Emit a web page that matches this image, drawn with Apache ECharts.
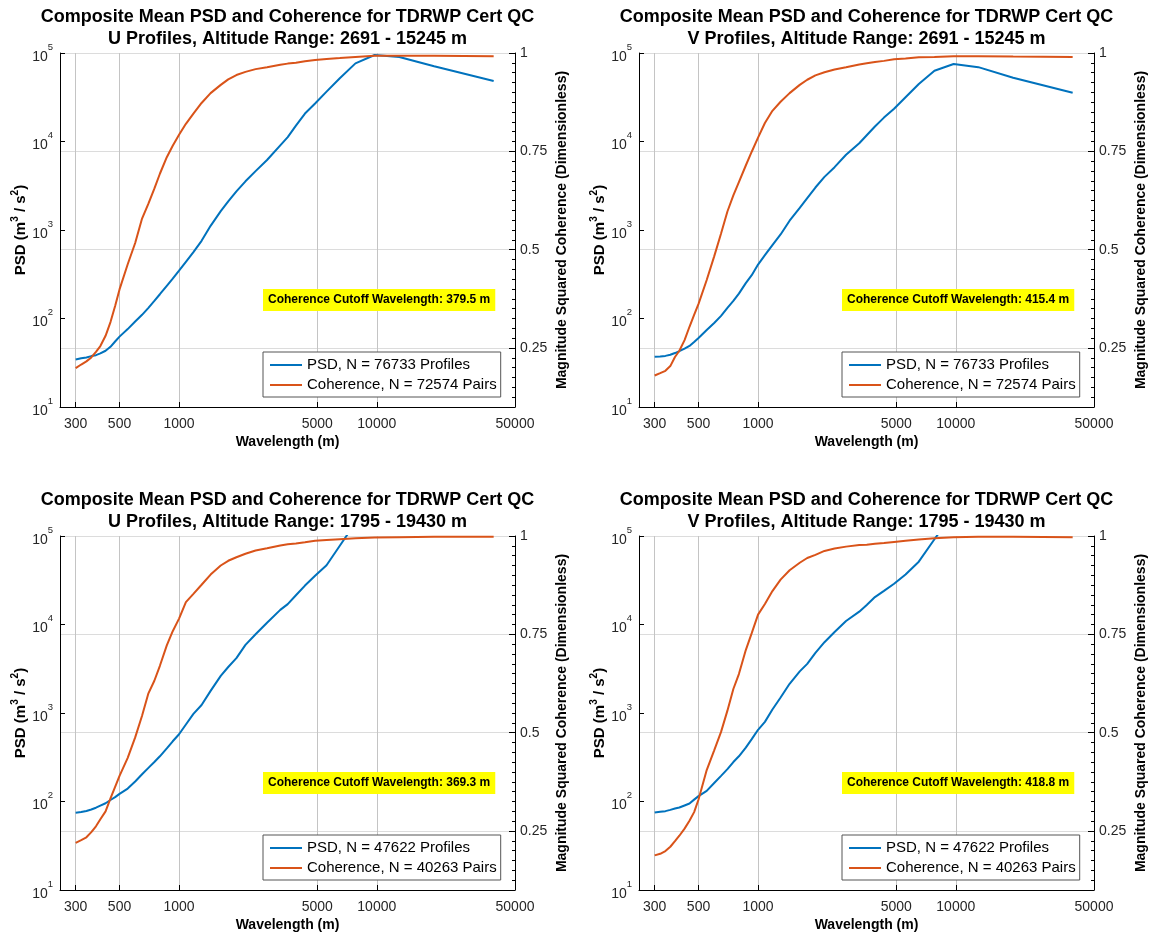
<!DOCTYPE html>
<html><head><meta charset="utf-8">
<script src="https://cdn.jsdelivr.net/npm/echarts@6/dist/echarts.min.js"></script>
<style>html,body{margin:0;padding:0;background:#fff}#c{width:1151px;height:936px}</style>
</head><body><div id="c"></div>
<script>
// ---------- data ----------
const wavelengths = [300,320,340,360,380,400,425,450,475,500,550,600,650,700,750,800,867,929,1000,1083,1182,1300,1444,1625,1773,1950,2167,2438,2786,3250,3545,3900,4333,4875,5571,6500,7800,9750,13000,19500,39000];

const psdUTop = [34.4,35.5,36.3,37.6,38.5,40.3,43.2,47.9,55.0,62.4,75.9,92.3,110,132,158,188,234,282,347,437,562,755,1114,1633,2109,2735,3548,4624,6180,9036,11220,15140,20700,26920,36640,51760,76380,94840,90160,70790,48310];
const cohUTop = [0.199,0.208,0.216,0.226,0.240,0.255,0.281,0.316,0.357,0.399,0.463,0.517,0.579,0.617,0.655,0.693,0.735,0.764,0.792,0.820,0.846,0.873,0.898,0.919,0.933,0.944,0.952,0.959,0.964,0.970,0.973,0.975,0.979,0.982,0.985,0.987,0.990,0.993,0.993,0.993,0.992];

const psdVTop = [36.9,37.2,37.8,38.9,40.7,42.7,45.7,49.0,54.3,60.3,74.1,89.1,107,132,158,191,251,309,407,519,676,891,1274,1778,2291,3020,3981,5129,7079,9550,11750,14790,18620,23440,31620,44670,63100,75000,69180,52480,35480];
const cohVTop = [0.180,0.186,0.192,0.204,0.227,0.243,0.270,0.304,0.334,0.362,0.423,0.483,0.541,0.597,0.638,0.672,0.714,0.749,0.785,0.822,0.853,0.876,0.898,0.919,0.932,0.943,0.951,0.958,0.964,0.971,0.974,0.977,0.980,0.984,0.986,0.989,0.990,0.992,0.992,0.991,0.990];

const psdUBot = [74.6,75.9,78.2,81.3,85.1,89.7,95.5,104,112,122,140,168,203,240,279,324,398,479,575,741,977,1230,1778,2630,3311,4169,5888,7762,10470,14620,16980,21380,27540,35480,46770,77620,141300];
const cohUBot = [0.220,0.227,0.234,0.247,0.262,0.280,0.300,0.333,0.362,0.390,0.436,0.488,0.543,0.600,0.632,0.670,0.722,0.758,0.790,0.832,0.853,0.876,0.902,0.925,0.937,0.946,0.955,0.963,0.969,0.976,0.979,0.981,0.984,0.988,0.990,0.992,0.994,0.996,0.997,0.998,0.998];

const psdVBot = [75.0,76.6,77.8,80.4,83.2,85.5,90.2,94.8,105,115,132,162,195,232,279,324,407,507,646,794,1096,1496,2138,2951,3589,4786,6310,8222,10960,13960,16600,20420,23990,28840,36730,51290,91830,186200];
const cohVBot = [0.188,0.192,0.199,0.210,0.224,0.238,0.256,0.276,0.298,0.330,0.405,0.455,0.502,0.556,0.611,0.649,0.710,0.753,0.800,0.827,0.860,0.889,0.913,0.932,0.944,0.952,0.962,0.968,0.973,0.977,0.978,0.980,0.982,0.985,0.988,0.991,0.994,0.997,0.998,0.998,0.997];

const xTicks = [300,500,1000,5000,10000,50000];
const psdTicks = [10,100,1000,10000,100000];
const cohTicks = [0.25,0.5,0.75,1];

const titleLine1 = 'Composite Mean PSD and Coherence for TDRWP Cert QC';
const subtitles = ['U Profiles, Altitude Range: 2691 - 15245 m','V Profiles, Altitude Range: 2691 - 15245 m','U Profiles, Altitude Range: 1795 - 19430 m','V Profiles, Altitude Range: 1795 - 19430 m'];
const psdNames = ['PSD, N = 76733 Profiles','PSD, N = 76733 Profiles','PSD, N = 47622 Profiles','PSD, N = 47622 Profiles'];
const cohNames = ['Coherence, N = 72574 Pairs','Coherence, N = 72574 Pairs','Coherence, N = 40263 Pairs','Coherence, N = 40263 Pairs'];
const cutoffs = ['Coherence Cutoff Wavelength: 379.5 m','Coherence Cutoff Wavelength: 415.4 m','Coherence Cutoff Wavelength: 369.3 m','Coherence Cutoff Wavelength: 418.8 m'];
const psdSets = [psdUTop, psdVTop, psdUBot, psdVBot];
const cohSets = [cohUTop, cohVTop, cohUBot, cohVBot];

// ---------- layout ----------
const FONT = '"Liberation Sans", Arial, Helvetica, sans-serif';
const BLUE = '#0072BD', ORANGE = '#D95319';
const gridPos = [{left:60, top:53},{left:639, top:53},{left:60, top:536},{left:639, top:536}];
const GW = 455, GH = 354;

function pairs(xs, ys){ return ys.map((v,i)=>[xs[i], v]); }

const option = {animation:false, backgroundColor:'#fff', title:[], grid:[], xAxis:[], yAxis:[], series:[], legend:[], graphic:[]};

gridPos.forEach((p,i)=>{
  option.grid.push({left:p.left, top:p.top, width:GW, height:GH});
  option.title.push({text: titleLine1 + '\n' + subtitles[i], left: p.left + GW/2, top: p.top - 47, textAlign:'center', padding:0,
    textStyle:{fontFamily:FONT, fontSize:18, fontWeight:'bold', color:'#000', lineHeight:22}});
  option.xAxis.push({type:'log', logBase:10, gridIndex:i, min:250, max:50000,
    name:'Wavelength (m)', nameLocation:'middle', nameGap:28, nameMoveOverlap:false,
    nameTextStyle:{fontFamily:FONT, fontSize:14, fontWeight:'bold', color:'#000'},
    axisLine:{show:true, lineStyle:{color:'#000', width:1}},
    axisTick:{show:true, inside:true, length:5, customValues:xTicks, lineStyle:{color:'#000'}},
    axisLabel:{customValues:xTicks, formatter:v=>String(Math.round(v)), margin:10, fontSize:14, color:'#262626', fontFamily:FONT},
    splitLine:{show:true, lineStyle:{color:'#c4c4c4', width:1}}});
  option.yAxis.push({type:'log', logBase:10, gridIndex:i, position:'left', min:10, max:100000,
    name:'PSD (m{sup|3} / s{sup|2})', nameLocation:'middle', nameGap:28, nameRotate:90, nameMoveOverlap:false,
    nameTextStyle:{fontFamily:FONT, fontSize:15, fontWeight:'bold', color:'#000', lineHeight:22,
      rich:{sup:{fontFamily:FONT, fontSize:10, fontWeight:'bold', color:'#000', verticalAlign:'top', lineHeight:12}}},
    axisLine:{show:true, lineStyle:{color:'#000', width:1}},
    axisTick:{show:true, inside:true, length:5, customValues:psdTicks, lineStyle:{color:'#000'}},
    axisLabel:{customValues:psdTicks, margin:7,
      formatter:v=>'{b|10}{s|' + Math.round(Math.log10(v)) + '}',
      rich:{b:{fontFamily:FONT, fontSize:14, color:'#262626', lineHeight:22, verticalAlign:'bottom'},
            s:{fontFamily:FONT, fontSize:9.5, color:'#262626', lineHeight:12, verticalAlign:'top'}}},
    splitLine:{show:false}});
  option.yAxis.push({type:'value', gridIndex:i, position:'right', min:0.1, max:1, interval:0.025,
    axisLine:{show:true, lineStyle:{color:'#000', width:1}},
    axisTick:{show:true, inside:true, length:3, lineStyle:{color:'#000'}},
    axisLabel:{show:false}, splitLine:{show:false}});
  option.yAxis.push({type:'value', gridIndex:i, position:'right', min:0.1, max:1, interval:0.025,
    name:'Magnitude Squared Coherence (Dimensionless)', nameLocation:'middle', nameGap:40, nameRotate:90, nameMoveOverlap:false,
    nameTextStyle:{fontFamily:FONT, fontSize:14, fontWeight:'bold', color:'#000'},
    axisLine:{show:false},
    axisTick:{show:true, inside:true, length:6, customValues:cohTicks, lineStyle:{color:'#000'}},
    axisLabel:{customValues:cohTicks, formatter:v=>String(v), margin:5, fontSize:14, color:'#262626', fontFamily:FONT},
    splitLine:{show:true, lineStyle:{color:'#dcdcdc', width:1}}});
  option.series.push({name:psdNames[i], type:'line', xAxisIndex:i, yAxisIndex:3*i, data:pairs(wavelengths, psdSets[i]),
    symbol:'none', showSymbol:false, clip:true, lineStyle:{color:BLUE, width:2}, itemStyle:{color:BLUE}, z:3});
  option.series.push({name:cohNames[i], type:'line', xAxisIndex:i, yAxisIndex:3*i+1, data:pairs(wavelengths, cohSets[i]),
    symbol:'none', showSymbol:false, clip:true, lineStyle:{color:ORANGE, width:2}, itemStyle:{color:ORANGE}, z:4});
  option.legend.push({data:[psdNames[i], cohNames[i]], left:p.left+203, top:p.top+299, orient:'vertical',
    icon:'rect', itemWidth:32, itemHeight:2, itemGap:2, padding:[4,4,3,7], backgroundColor:'#fff', borderColor:'#555', borderWidth:1,
    selectedMode:false, textStyle:{fontFamily:FONT, fontSize:15, color:'#000', lineHeight:18}});
  option.graphic.push({type:'text', left:p.left+203, top:p.top+236, z:10,
    style:{text:cutoffs[i], font:'bold 12px ' + FONT, fill:'#000', backgroundColor:'#ffff00', padding:[5,5,5,5]}});
});

const chart = echarts.init(document.getElementById('c'));
chart.setOption(option);
</script>
</body></html>
